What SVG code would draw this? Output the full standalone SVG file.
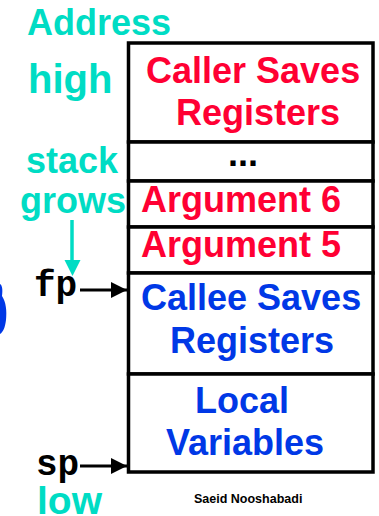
<svg xmlns="http://www.w3.org/2000/svg" width="379" height="516" viewBox="0 0 379 516">
<style>
.t{font-family:"Liberation Sans",Arial,sans-serif;font-weight:bold}
.teal{fill:#00DCC4}
.red{fill:#FF0033}
.blue{fill:#0038E6}
.mono{font-family:"Liberation Mono","Courier New",monospace;font-weight:bold;font-size:36px;fill:#000}
.box{fill:#fff;stroke:#000;stroke-width:3.5}
.arr{stroke:#000;stroke-width:3;fill:none}
</style>
<defs>
<marker id="ah" viewBox="0 0 10 10" refX="10" refY="5" markerWidth="5.5" markerHeight="5.5" markerUnits="strokeWidth" orient="auto"><path d="M0,0 L10,5 L0,10 Z" fill="#000"/></marker>
</defs>
<path d="M0,284 C2,285 3,289 2,296 C6,302 7,311 6,320 C5,328 3,332 0,334 Z" fill="#0038E6"/>
<g id="caller"><rect class="box" x="128.5" y="43" width="244.5" height="99"/><text class="t red" font-size="36" x="146" y="83">Caller Saves</text><text class="t red" font-size="36" x="176" y="125">Registers</text></g>
<g id="dots"><rect class="box" x="128.5" y="142" width="244.5" height="39"/><text class="t" font-size="36" x="243" y="166" text-anchor="middle">...</text></g>
<g id="arg6"><rect class="box" x="128.5" y="181" width="244.5" height="46"/><text class="t red" font-size="36" x="141" y="212">Argument 6</text></g>
<g id="arg5"><rect class="box" x="128.5" y="227" width="244.5" height="46"/><text class="t red" font-size="36" x="141" y="257">Argument 5</text></g>
<g id="callee"><rect class="box" x="128.5" y="273" width="244.5" height="101"/><text class="t blue" font-size="36" x="141" y="310">Callee Saves</text><text class="t blue" font-size="36" x="170" y="353">Registers</text></g>
<g id="local"><rect class="box" x="128.5" y="374" width="244.5" height="98"/><text class="t blue" font-size="36" x="195" y="413">Local</text><text class="t blue" font-size="36" x="166" y="455">Variables</text></g>
<g id="labels">
<text class="t teal" font-size="36" x="27" y="35">Address</text>
<text class="t teal" font-size="40" x="28" y="93">high</text>
<text class="t teal" font-size="36" x="26" y="173">stack</text>
<text class="t teal" font-size="36" x="20" y="213">grows</text>
<text class="mono" x="34" y="296">fp</text>
<text class="mono" font-size="34" x="36" y="475">sp</text>
<text class="t teal" font-size="39" x="37" y="514">low</text>
<text class="t" font-size="12.5" x="194" y="503">Saeid Nooshabadi</text>
</g>
<g id="connectors">
<line x1="72" y1="220" x2="72" y2="262" stroke="#00DCC4" stroke-width="3.5"/>
<path d="M64.5,260 L80.5,260 L72.5,276 Z" fill="#00DCC4"/>
<line class="arr" x1="80" y1="290" x2="127" y2="290" marker-end="url(#ah)"/>
<line class="arr" x1="80" y1="466" x2="127" y2="466" marker-end="url(#ah)"/>
</g>
</svg>
